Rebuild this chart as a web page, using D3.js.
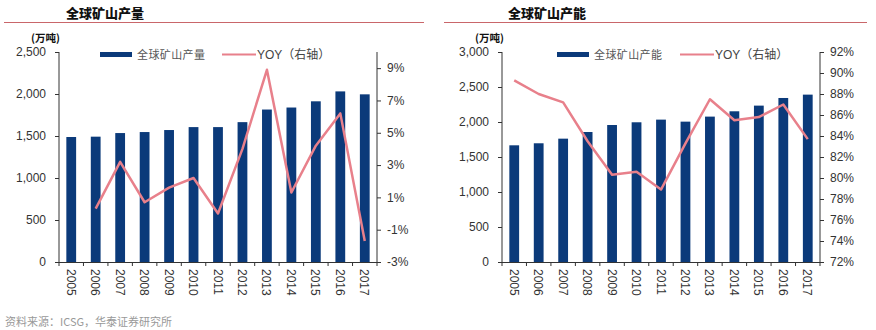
<!DOCTYPE html>
<html>
<head>
<meta charset="utf-8">
<script src="https://cdn.jsdelivr.net/npm/d3@7/dist/d3.min.js"></script>
<style>
  html, body { margin: 0; padding: 0; background: #fff; }
  svg { display: block; }
</style>
</head>
<body>
<svg id="chart" width="876" height="330"></svg>
<script>
// Years shared by both panels
const years = ["2005","2006","2007","2008","2009","2010","2011","2012","2013","2014","2015","2016","2017"];

// Global mine production (10k tonnes) and its year-on-year change (%)
const prodValues = [1488, 1492, 1535, 1547, 1571, 1606, 1606, 1665, 1815, 1839, 1913, 2031, 1996];
const prodYoy = [null, 0.3, 3.2, 0.7, 1.6, 2.2, 0.0, 4.0, 8.9, 1.3, 4.2, 6.2, -1.7];

// Global mine capacity (10k tonnes) and capacity utilisation (%)
const capValues = [1667, 1696, 1762, 1857, 1957, 1996, 2034, 2005, 2077, 2153, 2234, 2343, 2391];
const capRate = [89.3, 88.0, 87.2, 83.5, 80.3, 80.6, 78.9, 83.3, 87.5, 85.5, 85.8, 87.0, 83.7];

// Axis tick values
const prodTicks = [0, 500, 1000, 1500, 2000, 2500];
const prodYoyTicks = [-3, -1, 1, 3, 5, 7, 9];
const capTicks = [0, 500, 1000, 1500, 2000, 2500, 3000];
const capRateTicks = [72, 74, 76, 78, 80, 82, 84, 86, 88, 90, 92];

const BAR = "#0b3a7a";
const LINE = "#e8808b";
const AXIS = "#333";
const TXT = "#333";

const svg = d3.select("#chart");

function panel(cfg) {
  const g = svg.append("g");
  const x0 = cfg.left, x1 = cfg.right, yTop = 52, yBot = 262;

  // title and red rule under it
  g.append("text")
    .attr("x", cfg.titleX).attr("y", 18)
    .attr("font-family", "'Noto Sans CJK SC'")
    .attr("font-weight", 900).attr("font-size", 13)
    .attr("fill", "#111")
    .text(cfg.title);
  g.append("line")
    .attr("x1", cfg.ruleX1).attr("x2", cfg.ruleX2)
    .attr("y1", 22.5).attr("y2", 22.5)
    .attr("stroke", "#c9666a").attr("stroke-width", 1);

  // unit label
  g.append("text")
    .attr("x", cfg.unitX).attr("y", 42)
    .attr("font-family", "'Noto Sans CJK SC'")
    .attr("font-weight", 700).attr("font-size", 10.5)
    .attr("fill", "#111")
    .text("(万吨)");

  const x = d3.scaleBand().domain(years).range([x0, x1])
    .paddingInner(0.6).paddingOuter(0.3);
  const yL = d3.scaleLinear().domain(cfg.leftDomain).range([yBot, yTop]);
  const yR = d3.scaleLinear().domain(cfg.rightDomain).range([yBot, yTop]);

  // bars
  g.append("g").selectAll("rect").data(cfg.bars).join("rect")
    .attr("x", (d, i) => x(years[i]))
    .attr("y", d => yL(d))
    .attr("width", x.bandwidth())
    .attr("height", d => yBot - yL(d))
    .attr("fill", BAR);

  // line on right axis
  const pts = cfg.line.map((v, i) => ({ v, yr: years[i] })).filter(d => d.v !== null);
  g.append("path")
    .datum(pts)
    .attr("fill", "none")
    .attr("stroke", LINE).attr("stroke-width", 2.5)
    .attr("stroke-linejoin", "round")
    .attr("d", d3.line().x(d => x(d.yr) + x.bandwidth() / 2).y(d => yR(d.v)));

  // left axis
  const axL = g.append("g").attr("transform", `translate(${x0},0)`)
    .call(d3.axisLeft(yL).tickValues(cfg.leftTicks).tickSize(4).tickPadding(9)
      .tickFormat(d3.format(",")));
  // right axis
  const axR = g.append("g").attr("transform", `translate(${x1},0)`)
    .call(d3.axisRight(yR).tickValues(cfg.rightTicks).tickSize(4).tickPadding(6)
      .tickFormat(d => d + "%"));
  [axL, axR].forEach(a => {
    a.select(".domain").attr("stroke", AXIS).attr("d", null);
    a.selectAll(".tick line").attr("stroke", AXIS);
    a.selectAll("text").attr("fill", TXT)
      .attr("font-family", "'Liberation Sans', Arial, sans-serif").attr("font-size", 12);
  });
  axL.select(".domain").attr("d", `M0,${yTop}V${yBot}`);
  axR.select(".domain").attr("d", `M0,${yTop}V${yBot}`);

  // bottom axis: ticks at category boundaries, rotated year labels
  const step = x.step();
  const bx = g.append("g");
  bx.append("line").attr("x1", x0 - 4).attr("x2", x1 + 4)
    .attr("y1", yBot + 0.5).attr("y2", yBot + 0.5).attr("stroke", AXIS);
  bx.selectAll("line.t").data(d3.range(years.length + 1)).join("line")
    .attr("class", "t")
    .attr("x1", i => x0 + i * step).attr("x2", i => x0 + i * step)
    .attr("y1", yBot).attr("y2", yBot + 4).attr("stroke", AXIS);
  bx.selectAll("text").data(years).join("text")
    .attr("transform", d => `translate(${x(d) + x.bandwidth() / 2 - 4.5},${yBot + 7}) rotate(90)`)
    .attr("font-family", "'Liberation Sans', Arial, sans-serif").attr("font-size", 12)
    .attr("fill", TXT)
    .text(d => d);

  // legend
  const lg = g.append("g");
  lg.append("rect").attr("x", cfg.legX).attr("y", 52).attr("width", 32).attr("height", 5).attr("fill", BAR);
  lg.append("text").attr("x", cfg.legX + 37).attr("y", 59)
    .attr("font-family", "'Noto Sans CJK SC'").attr("font-size", 11).attr("fill", "#555")
    .attr("letter-spacing", 0.4)
    .text(cfg.barName);
  lg.append("line").attr("x1", cfg.legLineX).attr("x2", cfg.legLineX + 34)
    .attr("y1", 54.5).attr("y2", 54.5).attr("stroke", LINE).attr("stroke-width", 2);
  lg.append("text").attr("x", cfg.legLineX + 35).attr("y", 59)
    .attr("font-family", "'Liberation Sans', 'Noto Sans CJK SC', sans-serif").attr("font-size", 12).attr("fill", "#444")
    .text("YOY（右轴）");
}

panel({
  title: "全球矿山产量", titleX: 66, ruleX1: 4, ruleX2: 424, unitX: 31,
  left: 59, right: 377,
  leftDomain: [0, 2500], rightDomain: [-3, 10],
  leftTicks: prodTicks, rightTicks: prodYoyTicks,
  bars: prodValues, line: prodYoy,
  barName: "全球矿山产量", legX: 100, legLineX: 222
});

panel({
  title: "全球矿山产能", titleX: 508, ruleX1: 444, ruleX2: 867, unitX: 475,
  left: 502, right: 820,
  leftDomain: [0, 3000], rightDomain: [72, 92],
  leftTicks: capTicks, rightTicks: capRateTicks,
  bars: capValues, line: capRate,
  barName: "全球矿山产能", legX: 557, legLineX: 680
});

// source note
svg.append("text")
  .attr("x", 5).attr("y", 326)
  .attr("font-family", "'Noto Sans CJK SC'").attr("font-size", 11).attr("fill", "#999")
  .text("资料来源：ICSG，华泰证券研究所");
</script>
</body>
</html>
